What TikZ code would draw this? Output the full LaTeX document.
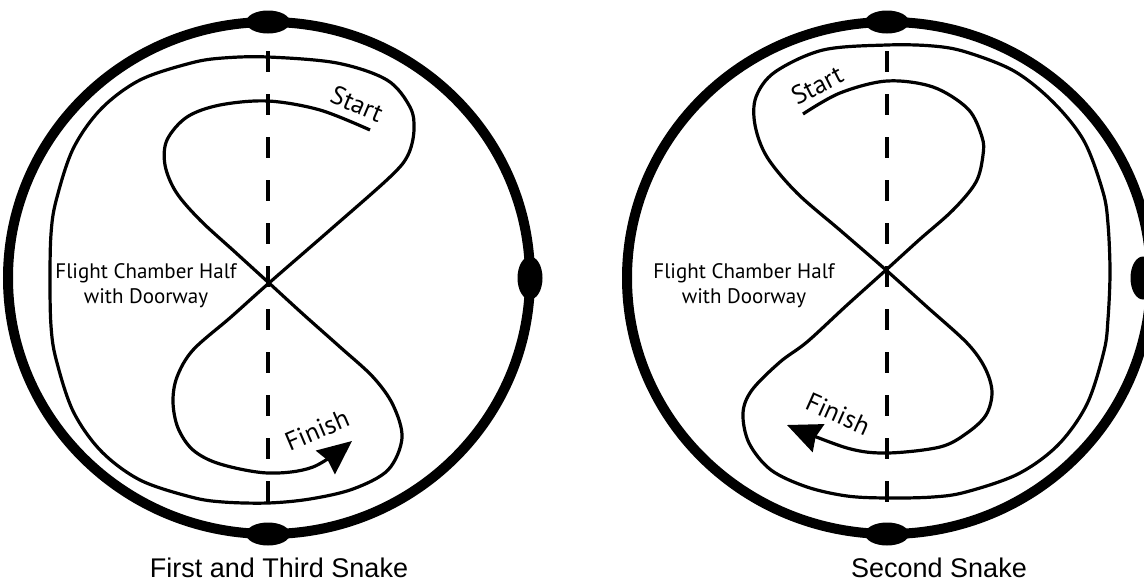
\documentclass[tikz,border=0pt]{standalone}
\usepackage{fontspec}
\setmainfont{PT Sans}
\newfontfamily\capfont{Liberation Sans}
\usetikzlibrary{arrows.meta,shapes.geometric}
\tikzset{rim/.style={line width=10pt},
  route/.style={line width=3.2pt,line join=round},
  midline/.style={line width=3.5pt,dash pattern=on 21pt off 22pt},
  door/.style={ellipse,fill=black,inner sep=0pt,minimum width=44pt,minimum height=23pt},
  sidedoor/.style={door,minimum width=25pt,minimum height=43pt},
  lbl/.style={font=\fontsize{21}{25}\selectfont,inner sep=0pt},
  endlbl/.style={font=\fontsize{26}{30}\selectfont,inner sep=0pt},
  snaketitle/.style={font=\capfont\fontsize{27}{30}\selectfont,inner sep=0pt,anchor=base},
  finarrow/.style={-{Stealth[length=34pt,width=30pt,inset=3pt]}}}

\begin{document}
\begin{tikzpicture}[x=1pt,y=-1pt]
\useasboundingbox (0,0) rectangle (1144,584);
% first and third snake
\draw[rim] (269,278) ellipse [x radius=261,y radius=256];
\node[door] (topL) at (268,22) {};
\node[door] (botL) at (268,534) {};
\node[sidedoor] (sideL) at (530,278) {};
\draw[midline] (268,51) -- (268,503);
\draw[route,finarrow] plot[smooth,tension=0.55] coordinates {
  (370,130) (320,110) (268,101) (220,105) (187,117) (167,140) (165,165) (176,192)
  (200,220) (235,252) (269,283) (304,315) (340,347) (373,377) (393,405) (402,438)
  (388,470) (353,489) (310,499) (268,503) (223,502) (191,497) (140,480) (101,451)
  (73,411) (56,359) (51,326) (50,280) (51,234) (56,201) (73,149) (101,109)
  (140,80) (191,63) (223,58) (268,57) (337,63) (387,80) (410,107) (414,130)
  (408,155) (390,177) (330,230) (269,283) (231,317) (193,350) (177,377) (173,402)
  (178,428) (193,450) (220,464) (268,473) (313,467) (352,441)};
\node[endlbl,rotate=-23] (startL) at (357,104) {Start};
\node[endlbl,rotate=23] (finishL) at (317,430) {Finish};
\node[lbl,align=center,anchor=base] (roomL) at (146,303) {Flight Chamber Half\\with Doorway};
\node[snaketitle] (titleL) at (279,577) {First and Third Snake};
% second snake
\draw[rim] (889,278) ellipse [x radius=262,y radius=256];
\node[door] (topR) at (887,22) {};
\node[door] (botR) at (887,534) {};
\node[sidedoor] (sideR) at (1143,278) {};
\draw[midline] (887,51) -- (887,503);
\draw[route,finarrow] plot[smooth,tension=0.55] coordinates {
  (803,114) (840,93) (887,81) (933,87) (968,109) (982,137) (983,155) (976,182)
  (953,210) (919,240) (886,270) (846,306) (807,342) (780,362) (752,390) (743,413)
  (749,443) (771,470) (807,487) (847,496) (887,498) (933,497) (966,492) (1018,474)
  (1058,445) (1087,404) (1104,351) (1108,319) (1110,272) (1108,224) (1103,192) (1084,141)
  (1053,102) (1014,71) (966,52) (933,46) (887,45) (823,50) (775,72)
  (756,97) (755,125) (767,157) (797,193) (841,231) (886,270) (926,306) (967,343)
  (985,368) (992,392) (986,415) (967,433) (940,447) (887,453) (847,448) (787,425)};
\node[endlbl,rotate=27] (startR) at (817,85) {Start};
\node[endlbl,rotate=-24] (finishR) at (838,414) {Finish};
\node[lbl,align=center,anchor=base] (roomR) at (744,303) {Flight Chamber Half\\with Doorway};
\node[snaketitle] (titleR) at (939,577) {Second Snake};
\end{tikzpicture}
\end{document}
